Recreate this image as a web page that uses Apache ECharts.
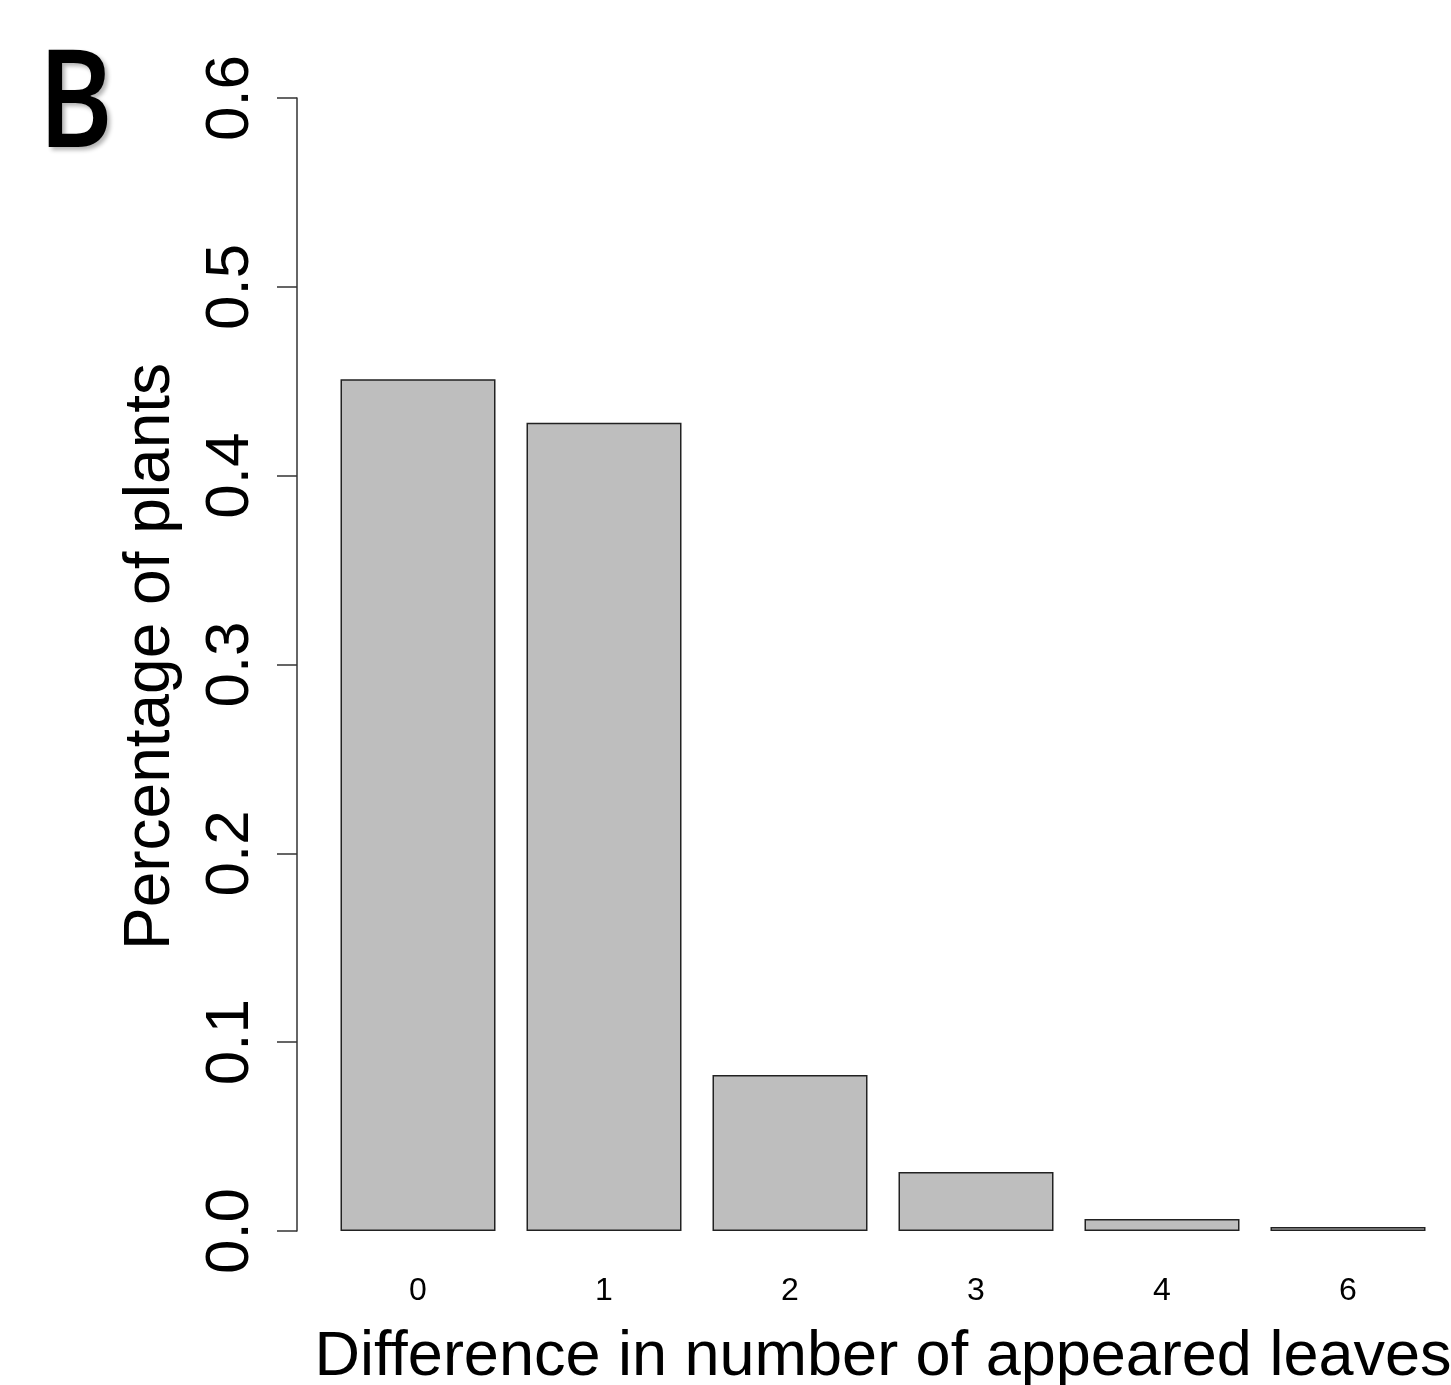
<!DOCTYPE html>
<html>
<head>
<meta charset="utf-8">
<script src="https://cdn.jsdelivr.net/npm/echarts@6/dist/echarts.min.js"></script>
<style>
html,body{margin:0;padding:0;background:#fff;}
#c{width:1451px;height:1385px;}
</style>
</head>
<body>
<div id="c"></div>
<script>
var categories = ['0', '1', '2', '3', '4', '6'];
var proportions = [0.451, 0.428, 0.0826, 0.0313, 0.0063, 0.0021];
var yTicks = [0, 0.1, 0.2, 0.3, 0.4, 0.5, 0.6];
var panelLetter = 'B';
var xTitle = 'Difference in number of appeared leaves';
var yTitle = 'Percentage of plants';

var chart = echarts.init(document.getElementById('c'), null, {renderer: 'canvas'});
var font = '"Liberation Sans", Arial, sans-serif';
chart.setOption({
  backgroundColor: '#ffffff',
  animation: false,
  grid: {left: 325, width: 1116, top: 98, height: 1133, containLabel: false, outerBoundsMode: 'none'},
  xAxis: {
    type: 'category',
    data: categories,
    axisLine: {show: false},
    axisTick: {show: false},
    axisLabel: {fontFamily: font, fontSize: 32, color: '#000', margin: 44},
    name: xTitle,
    nameLocation: 'middle',
    nameGap: 95,
    nameTextStyle: {fontFamily: font, fontSize: 63, color: '#000'}
  },
  yAxis: {
    type: 'value',
    min: yTicks[0],
    max: yTicks[yTicks.length - 1],
    interval: 0.1,
    offset: 28,
    splitLine: {show: false},
    axisLine: {show: true, lineStyle: {color: '#333', width: 1.5}},
    axisTick: {show: true, length: 20, lineStyle: {color: '#333', width: 1.5}},
    axisLabel: {
      fontFamily: font, fontSize: 62, color: '#000', rotate: 90, margin: 35,
      formatter: function (v) { return v.toFixed(1); }
    },
    name: yTitle,
    nameLocation: 'middle',
    nameGap: 114,
    nameTextStyle: {fontFamily: font, fontSize: 64, color: '#000', padding: [0, 0, 0, 16]}
  },
  series: [{
    type: 'bar',
    data: proportions,
    barWidth: 155,
    itemStyle: {color: '#bebebe', borderColor: '#222', borderWidth: 1.5}
  }],
  graphic: [{
    type: 'text',
    left: 38,
    top: 40,
    scaleX: 0.84,
    originX: 0,
    originY: 0,
    style: {
      text: panelLetter,
      font: '600 136px "Open Sans", sans-serif',
      fill: '#000',
      textShadowColor: 'rgba(0,0,0,0.3)',
      textShadowBlur: 4,
      textShadowOffsetX: 3,
      textShadowOffsetY: 3
    }
  }]
});
</script>
</body>
</html>
